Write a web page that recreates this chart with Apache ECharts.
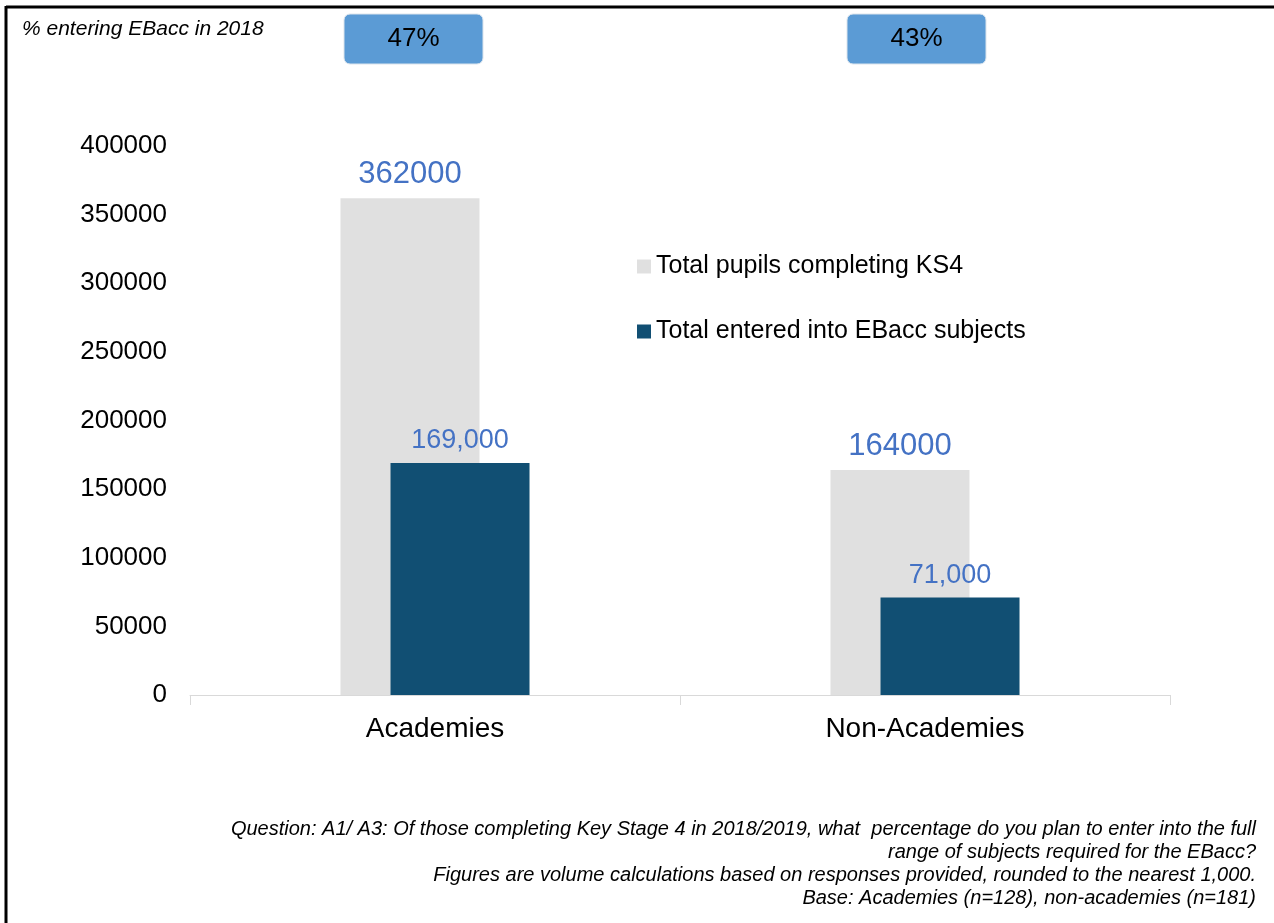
<!DOCTYPE html>
<html>
<head>
<meta charset="utf-8">
<script src="https://cdn.jsdelivr.net/npm/echarts@6/dist/echarts.min.js"></script>
<style>
html,body{margin:0;padding:0;background:#fff;}
#chart{width:1274px;height:923px;}
</style>
</head>
<body>
<div id="chart"></div>
<script>
const categories = ['Academies', 'Non-Academies'];
const totalPupils = [362000, 164000];
const enteredEBacc = [169000, 71000];
const percentEntering = ['47%', '43%'];
const seriesNames = ['Total pupils completing KS4', 'Total entered into EBacc subjects'];
const yTicks = { min: 0, max: 400000, interval: 50000 };
const footerLines = [
  'Question: A1/ A3: Of those completing Key Stage 4 in 2018/2019, what  percentage do you plan to enter into the full',
  'range of subjects required for the EBacc?',
  'Figures are volume calculations based on responses provided, rounded to the nearest 1,000.',
  'Base: Academies (n=128), non-academies (n=181)'
];

const FONT = '"Liberation Sans", Arial, sans-serif';
const chart = echarts.init(document.getElementById('chart'));

const boxCenters = [413.5, 916.5];
const graphics = [
  { type: 'line', shape: { x1: 6, y1: 7, x2: 1274, y2: 7 }, style: { stroke: '#000', lineWidth: 3 } },
  { type: 'line', shape: { x1: 6, y1: 6, x2: 6, y2: 923 }, style: { stroke: '#000', lineWidth: 3 } },
  { type: 'text', left: 22, top: 19, style: { text: '% entering EBacc in 2018', font: 'italic 21px ' + FONT, fill: '#000' } }
];
percentEntering.forEach((p, i) => {
  graphics.push({
    type: 'rect', shape: { x: boxCenters[i] - 69.5, y: 14, width: 139, height: 50, r: 6 },
    style: { fill: '#5b9bd5', stroke: '#dce4ec', lineWidth: 1 }
  });
  graphics.push({
    type: 'text', x: boxCenters[i], y: 39,
    style: { text: p, font: '26px ' + FONT, fill: '#000', align: 'center', verticalAlign: 'middle' }
  });
});
footerLines.forEach((t, i) => {
  graphics.push({
    type: 'text', x: 1256, y: 829 + i * 23,
    style: { text: t, font: 'italic 20px ' + FONT, fill: '#000', align: 'right', verticalAlign: 'middle' }
  });
});

chart.setOption({
  animation: false,
  textStyle: { fontFamily: FONT },
  grid: { left: 190, right: 104, top: 146, bottom: 228, containLabel: false },
  legend: {
    orient: 'vertical', left: 632, top: 249,
    icon: 'rect', itemWidth: 14, itemHeight: 14, itemGap: 40,
    textStyle: { fontSize: 25, color: '#000', fontFamily: FONT },
    data: seriesNames
  },
  xAxis: {
    type: 'category', data: categories,
    axisLine: { show: true, lineStyle: { color: '#d9d9d9', width: 1 } },
    axisTick: { show: true, length: 10, lineStyle: { color: '#d9d9d9' } },
    axisLabel: { fontSize: 28, color: '#000', margin: 20, fontFamily: FONT }
  },
  yAxis: {
    type: 'value', min: yTicks.min, max: yTicks.max, interval: yTicks.interval,
    axisLine: { show: false }, axisTick: { show: false },
    splitLine: { show: false },
    axisLabel: { fontSize: 26, color: '#000', margin: 23, fontFamily: FONT, formatter: v => String(v) }
  },
  series: [
    {
      name: seriesNames[0], type: 'bar', data: totalPupils,
      barWidth: 139, barGap: '-64%',
      itemStyle: { color: '#e0e0e0' },
      label: { show: true, position: 'top', distance: 8, fontSize: 31, color: '#4472c4', fontFamily: FONT,
        formatter: p => String(p.value) }
    },
    {
      name: seriesNames[1], type: 'bar', data: enteredEBacc,
      barWidth: 139, barGap: '-64%',
      itemStyle: { color: '#114f73' },
      label: { show: true, position: 'top', distance: 9, fontSize: 27, color: '#4472c4', fontFamily: FONT,
        formatter: p => p.value.toLocaleString('en-US') }
    }
  ],
  graphic: graphics
});
</script>
</body>
</html>
